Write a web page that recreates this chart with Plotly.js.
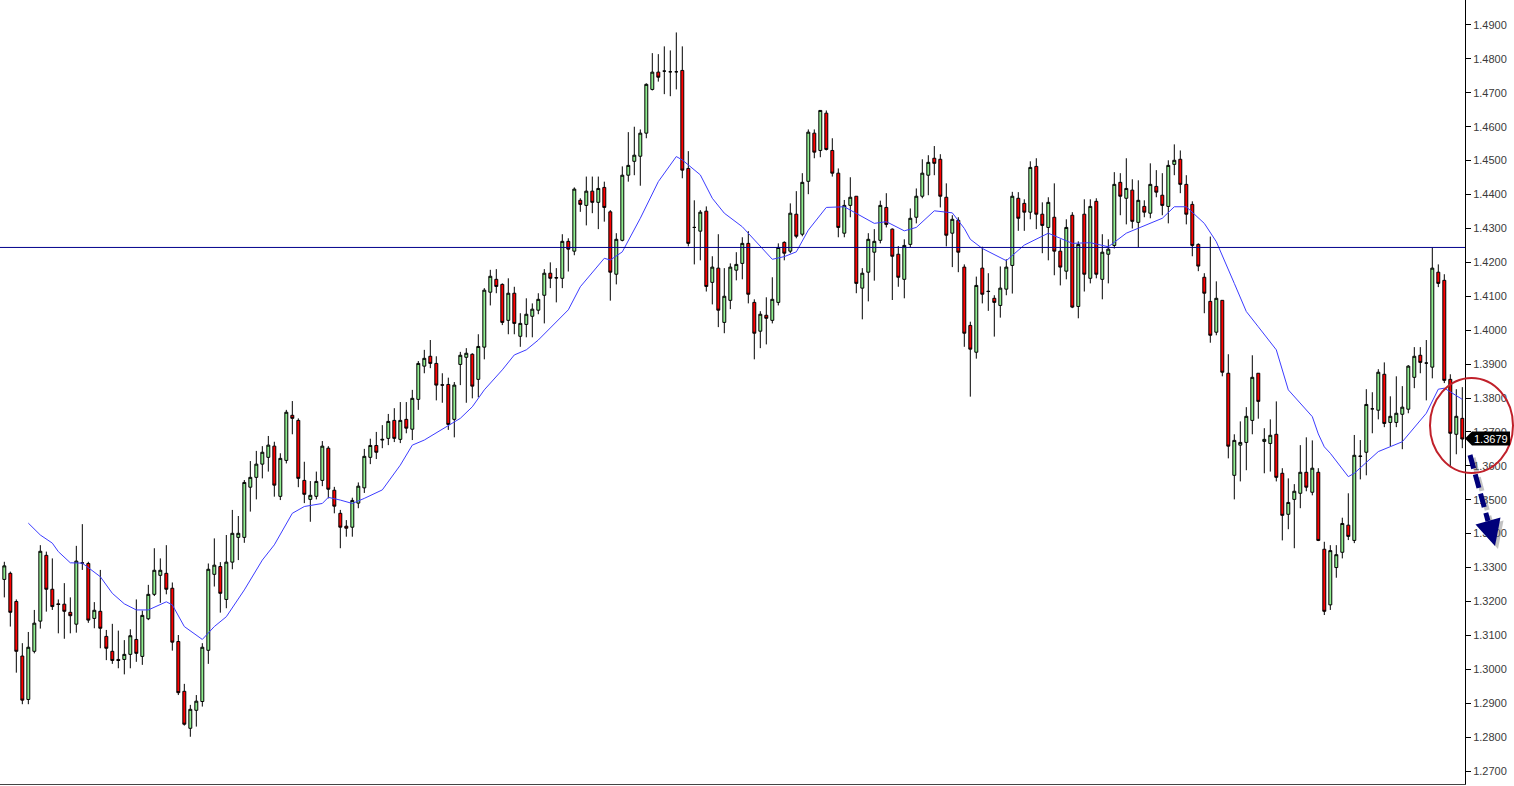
<!DOCTYPE html>
<html>
<head>
<meta charset="utf-8">
<script src="https://cdn.plot.ly/plotly-3.0.1.min.js"></script>
<style>html,body{margin:0;padding:0;background:#fff;}#chart{width:1514px;height:786px;}</style>
</head>
<body>
<div id="chart"></div>
<script>
// ---- Data ----
const openP = [1.3265,1.3283,1.3200,1.3039,1.2911,1.3053,1.3142,1.3336,1.3236,1.3193,
1.3192,1.3168,1.3133,1.3314,1.3312,1.3150,1.3171,1.3097,1.3053,1.3029,
1.3029,1.3044,1.3088,1.3038,1.3149,1.3221,1.3277,1.3283,1.3239,1.3082,
1.2935,1.2826,1.2879,1.2905,1.3056,1.3280,1.3303,1.3206,1.3316,1.3389,
1.3389,1.3537,1.3566,1.3605,1.3625,1.3658,1.3510,1.3616,1.3749,1.3734,
1.3557,1.3501,1.3510,1.3557,1.3652,1.3528,1.3460,1.3422,1.3419,1.3490,
1.3535,1.3625,1.3660,1.3676,1.3681,1.3734,1.3678,1.3737,1.3708,1.3796,
1.3894,1.3923,1.3902,1.3839,1.3840,1.3737,1.3899,1.3920,1.3929,1.3855,
1.3950,1.4112,1.4150,1.4135,1.4029,1.4109,1.3982,1.4017,1.4041,1.4059,
1.4103,1.4168,1.4155,1.4153,1.4262,1.4233,1.4383,1.4368,1.4410,1.4377,
1.4421,1.4349,1.4165,1.4265,1.4457,1.4498,1.4513,1.4581,1.4710,1.4761,
1.4764,1.4762,1.4762,1.4766,1.4477,1.4303,1.4292,1.4351,1.4141,1.4183,
1.4023,1.4088,1.4177,1.4197,1.4256,1.4082,1.3997,1.4044,1.4029,1.4082,
1.4259,1.4233,1.4342,1.4283,1.4439,1.4581,1.4530,1.4640,1.4530,1.4463,
1.4286,1.4368,1.4395,1.4124,1.4171,1.4230,1.4265,1.4362,1.4298,1.4224,
1.4150,1.4253,1.4333,1.4395,1.4457,1.4507,1.4504,1.4392,1.4286,1.4324,
1.4186,1.4014,1.3935,1.4183,1.4115,1.4094,1.4073,1.4121,1.4191,1.4389,
1.4374,1.4348,1.4483,1.4342,1.4303,1.4333,1.4233,1.4174,1.4339,1.4070,
1.4342,1.4153,1.4380,1.4150,1.4224,1.4250,1.4436,1.4389,1.4413,1.4318,
1.4365,1.4345,1.4424,1.4398,1.4365,1.4489,1.4504,1.4430,1.4371,1.4253,
1.4156,1.4085,1.3994,1.4088,1.3873,1.3572,1.3661,1.3669,1.3734,1.3873,
1.3672,1.3666,1.3693,1.3578,1.3457,1.3501,1.3519,1.3581,1.3522,1.3581,
1.3354,1.3190,1.3300,1.3345,1.3425,1.3380,1.3629,1.3640,1.3768,1.3764,
1.3870,1.3728,1.3728,1.3752,1.3767,1.3861,1.3926,1.3903,1.3891,1.4171,
1.4147,1.3855,1.3693,1.3740];
const highP = [1.3317,1.3288,1.3206,1.3077,1.3110,1.3175,1.3366,1.3347,1.3327,1.3206,
1.3254,1.3212,1.3364,1.3428,1.3317,1.3198,1.3293,1.3116,1.3134,1.3114,
1.3086,1.3118,1.3206,1.3173,1.3249,1.3357,1.3327,1.3366,1.3256,1.3101,
1.2957,1.2895,1.2924,1.3077,1.3312,1.3386,1.3316,1.3396,1.3470,1.3452,
1.3558,1.3614,1.3644,1.3658,1.3688,1.3671,1.3637,1.3765,1.3791,1.3740,
1.3612,1.3555,1.3583,1.3673,1.3658,1.3538,1.3470,1.3440,1.3506,1.3551,
1.3650,1.3680,1.3700,1.3720,1.3753,1.3770,1.3788,1.3788,1.3824,1.3909,
1.3942,1.3971,1.3923,1.3873,1.3860,1.3847,1.3936,1.3947,1.3932,1.3988,
1.4124,1.4178,1.4180,1.4138,1.4153,1.4128,1.4050,1.4094,1.4079,1.4109,
1.4180,1.4200,1.4183,1.4283,1.4271,1.4421,1.4389,1.4453,1.4453,1.4453,
1.4438,1.4354,1.4286,1.4483,1.4584,1.4600,1.4592,1.4728,1.4817,1.4814,
1.4837,1.4825,1.4878,1.4837,1.4528,1.4383,1.4354,1.4365,1.4218,1.4283,
1.4183,1.4197,1.4230,1.4274,1.4292,1.4091,1.4056,1.4097,1.4156,1.4256,
1.4262,1.4374,1.4410,1.4463,1.4592,1.4592,1.4648,1.4648,1.4566,1.4477,
1.4384,1.4451,1.4395,1.4183,1.4286,1.4298,1.4382,1.4404,1.4300,1.4248,
1.4268,1.4359,1.4418,1.4504,1.4516,1.4543,1.4519,1.4433,1.4339,1.4333,
1.4194,1.4025,1.4158,1.4246,1.4168,1.4103,1.4188,1.4209,1.4408,1.4407,
1.4386,1.4498,1.4507,1.4377,1.4392,1.4433,1.4268,1.4327,1.4348,1.4262,
1.4386,1.4386,1.4389,1.4283,1.4268,1.4466,1.4463,1.4507,1.4445,1.4442,
1.4383,1.4492,1.4472,1.4463,1.4501,1.4548,1.4530,1.4457,1.4380,1.4256,
1.4168,1.4276,1.4144,1.4088,1.3929,1.3693,1.3731,1.3773,1.3926,1.3873,
1.3711,1.3737,1.3790,1.3593,1.3563,1.3546,1.3661,1.3684,1.3675,1.3593,
1.3376,1.3366,1.3366,1.3447,1.3519,1.3691,1.3676,1.3826,1.3817,1.3885,
1.3905,1.3805,1.3864,1.3835,1.3897,1.3950,1.3950,1.3971,1.4244,1.4194,
1.4165,1.3870,1.3826,1.3832];
const lowP = [1.3212,1.3126,1.2990,1.2897,1.2897,1.3047,1.3120,1.3170,1.3175,1.3106,
1.3090,1.3106,1.3108,1.3293,1.3137,1.3121,1.3062,1.3027,1.3016,1.3003,
1.2985,1.3003,1.3022,1.3013,1.3145,1.3216,1.3196,1.3221,1.3055,1.2924,
1.2834,1.2801,1.2831,1.2890,1.3016,1.3244,1.3167,1.3180,1.3295,1.3322,
1.3373,1.3465,1.3501,1.3563,1.3583,1.3509,1.3499,1.3607,1.3693,1.3537,
1.3490,1.3435,1.3501,1.3540,1.3504,1.3460,1.3357,1.3391,1.3391,1.3475,
1.3520,1.3605,1.3620,1.3652,1.3661,1.3670,1.3667,1.3696,1.3676,1.3765,
1.3873,1.3888,1.3793,1.3786,1.3706,1.3684,1.3838,1.3786,1.3799,1.3802,
1.3914,1.4073,1.4109,1.4015,1.3988,1.3988,1.3951,1.3979,1.3979,1.4047,
1.4020,1.4124,1.4082,1.4124,1.4173,1.4221,1.4349,1.4309,1.4345,1.4298,
1.4320,1.4087,1.4135,1.4262,1.4438,1.4457,1.4426,1.4566,1.4707,1.4733,
1.4696,1.4690,1.4710,1.4448,1.4247,1.4194,1.4206,1.4114,1.4076,1.4009,
1.3991,1.4062,1.4147,1.4150,1.4079,1.3914,1.3947,1.3958,1.4020,1.4073,
1.4206,1.4227,1.4271,1.4277,1.4401,1.4507,1.4510,1.4530,1.4453,1.4274,
1.4274,1.4333,1.4109,1.4032,1.4085,1.4146,1.4256,1.4303,1.4089,1.4128,
1.4094,1.4244,1.4315,1.4389,1.4398,1.4457,1.4362,1.4247,1.4186,1.4171,
1.3951,1.3804,1.3916,1.4079,1.4057,1.3981,1.4037,1.4103,1.4108,1.4293,
1.4293,1.4327,1.4298,1.4227,1.4206,1.4162,1.4132,1.4150,1.4065,1.4035,
1.4114,1.4138,1.4153,1.4091,1.4138,1.4241,1.4339,1.4312,1.4300,1.4244,
1.4333,1.4330,1.4392,1.4339,1.4315,1.4457,1.4404,1.4312,1.4218,1.4174,
1.4050,1.3963,1.3985,1.3864,1.3622,1.3501,1.3554,1.3587,1.3693,1.3739,
1.3578,1.3583,1.3554,1.3380,1.3413,1.3357,1.3475,1.3525,1.3513,1.3378,
1.3160,1.3175,1.3270,1.3327,1.3381,1.3372,1.3560,1.3572,1.3696,1.3737,
1.3714,1.3658,1.3714,1.3649,1.3755,1.3829,1.3873,1.3793,1.3858,1.4127,
1.3844,1.3596,1.3634,1.3652];
const closeP = [1.3305,1.3168,1.3053,1.2909,1.3065,1.3136,1.3348,1.3236,1.3185,1.3191,
1.3171,1.3158,1.3319,1.3313,1.3145,1.3174,1.3121,1.3062,1.3026,1.3026,
1.3044,1.3099,1.3047,1.3159,1.3221,1.3292,1.3292,1.3236,1.3080,1.2931,
1.2838,1.2882,1.2906,1.3065,1.3295,1.3307,1.3224,1.3316,1.3401,1.3401,
1.3551,1.3566,1.3605,1.3640,1.3661,1.3543,1.3622,1.3758,1.3740,1.3563,
1.3516,1.3513,1.3554,1.3658,1.3531,1.3481,1.3419,1.3416,1.3498,1.3540,
1.3628,1.3660,1.3640,1.3678,1.3731,1.3681,1.3734,1.3711,1.3799,1.3902,
1.3917,1.3902,1.3838,1.3838,1.3722,1.3838,1.3926,1.3932,1.3835,1.3952,
1.4118,1.4159,1.4129,1.4023,1.4109,1.4020,1.4020,1.4047,1.4062,1.4091,
1.4168,1.4153,1.4154,1.4262,1.4239,1.4416,1.4371,1.4410,1.4377,1.4418,
1.4362,1.4171,1.4268,1.4457,1.4486,1.4516,1.4581,1.4725,1.4761,1.4746,
1.4764,1.4762,1.4762,1.4472,1.4256,1.4303,1.4348,1.4129,1.4186,1.4059,
1.4100,1.4186,1.4194,1.4256,1.4106,1.3991,1.4047,1.4035,1.4091,1.4244,
1.4227,1.4345,1.4277,1.4436,1.4584,1.4525,1.4648,1.4533,1.4463,1.4303,
1.4368,1.4392,1.4138,1.4168,1.4268,1.4262,1.4368,1.4312,1.4218,1.4156,
1.4250,1.4330,1.4395,1.4463,1.4495,1.4492,1.4395,1.4280,1.4327,1.4230,
1.3991,1.3944,1.4132,1.4106,1.4114,1.4082,1.4124,1.4186,1.4395,1.4330,
1.4348,1.4480,1.4342,1.4309,1.4377,1.4233,1.4186,1.4303,1.4068,1.4253,
1.4165,1.4365,1.4165,1.4230,1.4239,1.4430,1.4395,1.4418,1.4321,1.4383,
1.4348,1.4430,1.4407,1.4368,1.4486,1.4501,1.4430,1.4342,1.4250,1.4189,
1.4109,1.3985,1.4094,1.3876,1.3658,1.3675,1.3669,1.3746,1.3861,1.3790,
1.3678,1.3690,1.3566,1.3454,1.3492,1.3525,1.3581,1.3537,1.3593,1.3380,
1.3171,1.3350,1.3338,1.3430,1.3392,1.3631,1.3628,1.3781,1.3768,1.3876,
1.3725,1.3746,1.3755,1.3773,1.3894,1.3923,1.3905,1.3903,1.4183,1.4138,
1.3852,1.3696,1.3746,1.3679];

// moving average line (at candle positions)
const maIndex = [4,6,8,9,11,13,16,18,20,22,24,27,28,30,33,35,37,40,43,45,48,50,53,54,56,58,60,63,66,68,70,74,76,78,80,83,85,87,89,94,96,100,101,103,106,109,112,113,116,118,120,123,125,128,130,132,134,137,140,143,145,147,150,152,155,158,160,161,163,167,170,174,176,178,181,184,187,189,193,195,197,200,202,205,207,209,212,214,218,219,220,221,224,225,229,233,237,239,240,243];
const maValue = [1.3431,1.3396,1.3372,1.3347,1.3314,1.3313,1.3273,1.3224,1.3193,1.3175,1.3175,1.3199,1.3190,1.3126,1.3088,1.3126,1.3155,1.3234,1.3322,1.3367,1.3460,1.3480,1.3489,1.3507,1.3499,1.3489,1.3504,1.3529,1.3602,1.3661,1.3676,1.3720,1.3740,1.3774,1.3824,1.3883,1.3927,1.3942,1.3971,1.4060,1.4128,1.4212,1.4207,1.4231,1.4330,1.4438,1.4512,1.4502,1.4458,1.4389,1.4345,1.4305,1.4266,1.4209,1.4217,1.4231,1.4295,1.4362,1.4364,1.4335,1.4315,1.4320,1.4293,1.4303,1.4352,1.4346,1.4300,1.4268,1.4241,1.4205,1.4251,1.4286,1.4271,1.4256,1.4258,1.4246,1.4286,1.4300,1.4330,1.4364,1.4364,1.4315,1.4261,1.4138,1.4055,1.4010,1.3942,1.3824,1.3745,1.3694,1.3656,1.3637,1.3568,1.3578,1.3642,1.3671,1.3755,1.3826,1.3829,1.3796];

const levelLine = 1.4244;
const lastPrice = 1.3679;
const lastLabel = "1.3679";

// ---- Chart ----
const idx = openP.map((_, i) => i);

const traces = [
  {
    type: 'candlestick', x: idx, open: openP, high: highP, low: lowP, close: closeP,
    increasing: {line: {color: '#000000', width: 1}, fillcolor: '#90ee90'},
    decreasing: {line: {color: '#000000', width: 1}, fillcolor: '#ff0000'},
    whiskerwidth: 0, hoverinfo: 'skip', showlegend: false
  },
  {
    type: 'scatter', mode: 'lines', x: maIndex, y: maValue,
    line: {color: '#3c3cff', width: 1}, hoverinfo: 'skip', showlegend: false
  }
];

const W = 1465, H = 784;
const px = x => x / W;
const py = y => (H - y) / H;

const navy = '#00007a';
const shapes = [
  {type: 'line', xref: 'paper', x0: 0, x1: 1, yref: 'y', y0: levelLine, y1: levelLine,
   line: {color: '#00008c', width: 1}, layer: 'above'},
  // arrow shadow
  {type: 'line', xref: 'paper', yref: 'paper', x0: px(1473), y0: py(458), x1: px(1491), y1: py(524),
   line: {color: 'rgba(120,120,120,0.45)', width: 5, dash: '14px,6px'}, layer: 'above'},
  {type: 'path', xref: 'paper', yref: 'paper',
   path: `M ${px(1498)} ${py(549)} L ${px(1503.5)} ${py(520.5)} L ${px(1478.5)} ${py(527.5)} Z`,
   fillcolor: 'rgba(120,120,120,0.45)', line: {width: 0}, layer: 'above'},
  // arrow
  {type: 'line', xref: 'paper', yref: 'paper', x0: px(1470), y0: py(455), x1: px(1488), y1: py(521),
   line: {color: navy, width: 5, dash: '14px,6px'}, layer: 'above'},
  {type: 'path', xref: 'paper', yref: 'paper',
   path: `M ${px(1495)} ${py(546)} L ${px(1500.5)} ${py(517.5)} L ${px(1475.5)} ${py(524.5)} Z`,
   fillcolor: navy, line: {width: 0}, layer: 'above'},
  // circle
  {type: 'circle', xref: 'paper', yref: 'paper', x0: px(1430), x1: px(1513), y0: py(473), y1: py(378),
   line: {color: '#c0202a', width: 2}, layer: 'above'},
  // last price tag
  {type: 'path', xref: 'paper', yref: 'paper',
   path: `M ${px(1465)} ${py(438.5)} L ${px(1472)} ${py(431.5)} L ${px(1510)} ${py(431.5)} L ${px(1510)} ${py(445.5)} L ${px(1472)} ${py(445.5)} Z`,
   fillcolor: '#000000', line: {width: 0}, layer: 'above'}
];

const layout = {
  width: 1514, height: 786,
  margin: {l: 0, r: 49, t: 0, b: 2, pad: 0},
  paper_bgcolor: '#ffffff', plot_bgcolor: '#ffffff',
  showlegend: false,
  xaxis: {
    range: [-0.72, 243.45], showgrid: false, zeroline: false, showticklabels: false,
    ticks: '', showline: true, linecolor: '#444444', linewidth: 1,
    rangeslider: {visible: false}, fixedrange: true
  },
  yaxis: {
    side: 'right', range: [1.26617, 1.49737], tick0: 1.27, dtick: 0.01, tickformat: '.4f',
    ticks: 'outside', ticklen: 5, tickcolor: '#000000', tickwidth: 1,
    showgrid: false, zeroline: false, showline: true, linecolor: '#000000', linewidth: 1,
    tickfont: {family: 'Liberation Sans, Arial, sans-serif', size: 11, color: '#3a3a3a'},
    fixedrange: true
  },
  shapes: shapes,
  annotations: [
    {xref: 'paper', yref: 'y', x: px(1491), y: lastPrice, text: lastLabel, showarrow: false,
     font: {family: 'Liberation Sans, Arial, sans-serif', size: 11, color: '#ffffff'},
     xanchor: 'center', yanchor: 'middle'}
  ]
};

Plotly.newPlot('chart', traces, layout, {displayModeBar: false, staticPlot: true});
</script>
</body>
</html>
